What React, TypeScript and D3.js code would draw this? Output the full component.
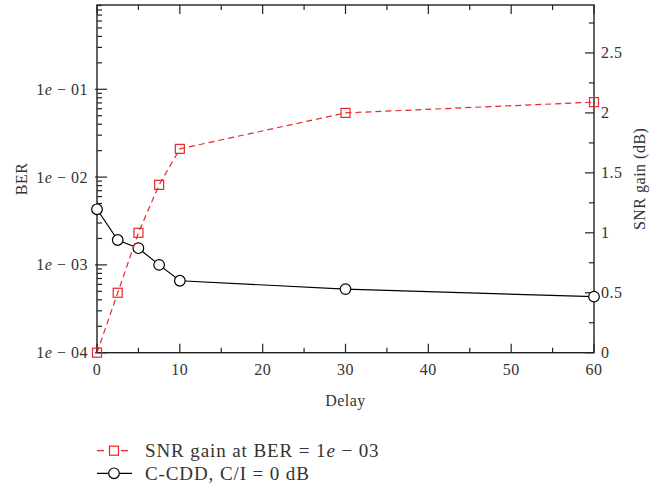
import React from "react";
import * as d3 from "d3";

const delays = [0, 2.5, 5, 7.5, 10, 30, 60];
const berCCDD = [4.3e-3, 1.92e-3, 1.55e-3, 1.0e-3, 6.6e-4, 5.3e-4, 4.35e-4];
const snrGain = [0, 0.5, 1.0, 1.4, 1.7, 2.0, 2.09];
const xTicks = [0, 10, 20, 30, 40, 50, 60];
const xMinor = [5, 15, 25, 35, 45, 55];
const berTicks = [1e-4, 1e-3, 1e-2, 1e-1];
const berTickLabels = ["04", "03", "02", "01"];
const snrTicks = [0, 0.5, 1, 1.5, 2, 2.5];
const snrTickLabels = ["0", "0.5", "1", "1.5", "2", "2.5"];
const snrMinor = [0.25, 0.75, 1.25, 1.75, 2.25, 2.75];
const legendLabels = ["SNR gain at BER = ", "C-CDD, C/I = 0 dB"];

const W = 669, H = 490;
const L = 97, R = 594, T = 5, B = 352.7;
const RED = "#e8262b";
const AX = "#222";
const FONT = "'Liberation Serif', 'Times New Roman', serif";

export default function App() {
  const x = d3.scaleLinear().domain([0, 60]).range([L, R]);
  const yL = d3.scaleLog().domain([1e-4, Math.pow(10, -0.04)]).range([B, T]);
  const yR = d3.scaleLinear().domain([0, 2.9]).range([B, T]);

  const berMinor: number[] = [];
  for (const dec of [1e-4, 1e-3, 1e-2, 1e-1]) {
    for (let k = 2; k <= 9; k++) {
      const v = k * dec;
      if (v <= yL.domain()[1]) berMinor.push(v);
    }
  }

  const lineBer = d3.line<number>().x((_, i) => x(delays[i])).y((d) => yL(d));
  const lineSnr = d3.line<number>().x((_, i) => x(delays[i])).y((d) => yR(d));

  const sq = 9;
  return (
    <svg width={W} height={H} style={{ position: "absolute", left: 0, top: 0, background: "#fff" }} fontFamily={FONT}>
      <rect x={0} y={0} width={W} height={H} fill="#fff" />
      {/* ticks */}
      <g stroke={AX} strokeWidth={1.2}>
        {xTicks.map((t) => (
          <g key={"xt" + t}>
            <line x1={x(t)} x2={x(t)} y1={B} y2={B - 9} />
            <line x1={x(t)} x2={x(t)} y1={T} y2={T + 9} />
          </g>
        ))}
        {xMinor.map((t) => (
          <g key={"xm" + t}>
            <line x1={x(t)} x2={x(t)} y1={B} y2={B - 5} />
            <line x1={x(t)} x2={x(t)} y1={T} y2={T + 5} />
          </g>
        ))}
        {berTicks.map((t) => (
          <line key={"bt" + t} x1={L - 2} x2={L + 10} y1={yL(t)} y2={yL(t)} />
        ))}
        {berMinor.map((t, i) => (
          <line key={"bm" + i} x1={L} x2={L + 5} y1={yL(t)} y2={yL(t)} />
        ))}
        {snrTicks.map((t) => (
          <line key={"st" + t} x1={R} x2={R - 9} y1={yR(t)} y2={yR(t)} />
        ))}
        {snrMinor.map((t) => (
          <line key={"sm" + t} x1={R} x2={R - 5} y1={yR(t)} y2={yR(t)} />
        ))}
      </g>
      <rect x={L} y={T} width={R - L} height={B - T} fill="none" stroke={AX} strokeWidth={1.4} />

      {/* tick labels */}
      <g fontSize={16} fill="#333" letterSpacing={0.5}>
        {xTicks.map((t) => (
          <text key={"xl" + t} x={x(t)} y={375} textAnchor="middle">{t}</text>
        ))}
        {berTicks.map((t, i) => (
          <text key={"bl" + t} x={88} y={yL(t) + 5.5} textAnchor="end">
            1<tspan fontStyle="italic">e</tspan> − {berTickLabels[i]}
          </text>
        ))}
        {snrTicks.map((t, i) => (
          <text key={"sl" + t} x={601} y={yR(t) + 5.5} textAnchor="start">{snrTickLabels[i]}</text>
        ))}
        <text x={(L + R) / 2} y={406} textAnchor="middle">Delay</text>
        <text transform={`translate(27,${(T + B) / 2}) rotate(-90)`} textAnchor="middle">BER</text>
        <text transform={`translate(645,${(T + B) / 2}) rotate(-90)`} textAnchor="middle">SNR gain (dB)</text>
      </g>

      {/* black series */}
      <path d={lineBer(berCCDD) || ""} fill="none" stroke="#000" strokeWidth={1.2} />
      {berCCDD.map((v, i) => (
        <circle key={"c" + i} cx={x(delays[i])} cy={yL(v)} r={5.3} fill="#fff" stroke="#000" strokeWidth={1.2} />
      ))}

      {/* red series */}
      <path d={lineSnr(snrGain) || ""} fill="none" stroke={RED} strokeWidth={1.2} strokeDasharray="6,4" />
      {snrGain.map((v, i) => (
        <rect key={"s" + i} x={x(delays[i]) - sq / 2} y={yR(v) - sq / 2} width={sq} height={sq} fill="#fff" fillOpacity={0} stroke={RED} strokeWidth={1.2} />
      ))}

      {/* legend */}
      <g>
        <line x1={97} x2={132} y1={450.7} y2={450.7} stroke={RED} strokeWidth={1.2} strokeDasharray="7,5" />
        <rect x={114 - sq / 2} y={450.7 - sq / 2} width={sq} height={sq} fill="#fff" stroke={RED} strokeWidth={1.2} />
        <line x1={97} x2={132} y1={473.3} y2={473.3} stroke="#000" strokeWidth={1.2} />
        <circle cx={114} cy={473.3} r={5.3} fill="#fff" stroke="#000" strokeWidth={1.2} />
        <text x={145} y={456.7} fontSize={19} letterSpacing={0.9} fill="#333">
          {legendLabels[0]}1<tspan fontStyle="italic">e</tspan> − 03
        </text>
        <text x={145} y={480} fontSize={19} letterSpacing={0.9} fill="#333">{legendLabels[1]}</text>
      </g>
    </svg>
  );
}
